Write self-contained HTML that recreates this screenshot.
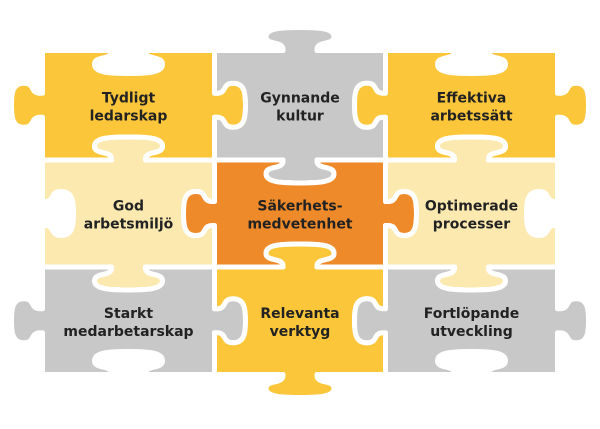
<!DOCTYPE html>
<html><head><meta charset="utf-8">
<style>
html,body{margin:0;padding:0;background:#fff;width:600px;height:429px;overflow:hidden}
text{font-family:"DejaVu Sans","Liberation Sans",sans-serif;font-weight:bold;font-size:14px;fill:#222;text-anchor:middle}
</style></head>
<body>
<svg id="s" width="600" height="429" viewBox="0 0 600 429" xmlns="http://www.w3.org/2000/svg"></svg>
<script>
var X=[42.5,214.5,385.5,557.5], Y=[50.5,160,267,374.5];
var cells=[
 ['#fbc63a','A',['Tydligt','ledarskap']],['#c8c8c8','B',['Gynnande','kultur']],['#fbc63a','A',['Effektiva','arbetssätt']],
 ['#fbe9b0','B',['God','arbetsmiljö']],['#ee8a2a','A',['Säkerhets-','medvetenhet']],['#fbe9b0','B',['Optimerade','processer']],
 ['#c8c8c8','A',['Starkt','medarbetarskap']],['#fbc63a','B',['Relevanta','verktyg']],['#c8c8c8','A',['Fortlöpande','utveckling']]
];
function knob(c,t,nv,horizKnob,sgn){
 var n,h,d;
 if(horizKnob){n=12;h=22;d=31;}else{n=17;h=34;d=23;}
 d*=sgn;
 var pts=[[-n,0],[-n+1,d*0.45],[-h,d*0.2],[-h,d*0.6],[-h,d*0.97],[-h*0.55,d],[0,d],[h*0.55,d],[h,d*0.97],[h,d*0.6],[h,d*0.2],[n-1,d*0.45],[n,0]];
 var P=pts.map(function(p){return [c[0]+p[0]*t[0]+p[1]*nv[0], c[1]+p[0]*t[1]+p[1]*nv[1]];});
 var s='L'+P[0][0]+' '+P[0][1];
 for(var i=1;i<13;i+=3){s+=' C'+P[i][0]+' '+P[i][1]+' '+P[i+1][0]+' '+P[i+1][1]+' '+P[i+2][0]+' '+P[i+2][1];}
 return s;
}
var out='';
for(var r=0;r<3;r++)for(var c=0;c<3;c++){
 var cell=cells[r*3+c];var A=cell[1]=='A';
 var x0=X[c],x1=X[c+1],y0=Y[r],y1=Y[r+1],cx=(x0+x1)/2,cy=(y0+y1)/2;
 var vs=A?-1:1, hs=A?1:-1;
 var d='M'+x0+' '+y0;
 d+=knob([cx,y0],[1,0],[0,-1],false,vs)+' L'+x1+' '+y0;
 d+=knob([x1,cy],[0,1],[1,0],true,hs)+' L'+x1+' '+y1;
 d+=knob([cx,y1],[-1,0],[0,1],false,vs)+' L'+x0+' '+y1;
 d+=knob([x0,cy],[0,-1],[-1,0],true,hs)+' Z';
 out+='<path d="'+d+'" fill="'+cell[0]+'" stroke="#fff" stroke-width="5" stroke-linejoin="round"/>';
 out+='<text x="'+cx+'" y="'+(cy-3)+'">'+cell[2][0]+'</text><text x="'+cx+'" y="'+(cy+15)+'">'+cell[2][1]+'</text>';
}
document.getElementById('s').innerHTML=out;
</script>
</body></html>
